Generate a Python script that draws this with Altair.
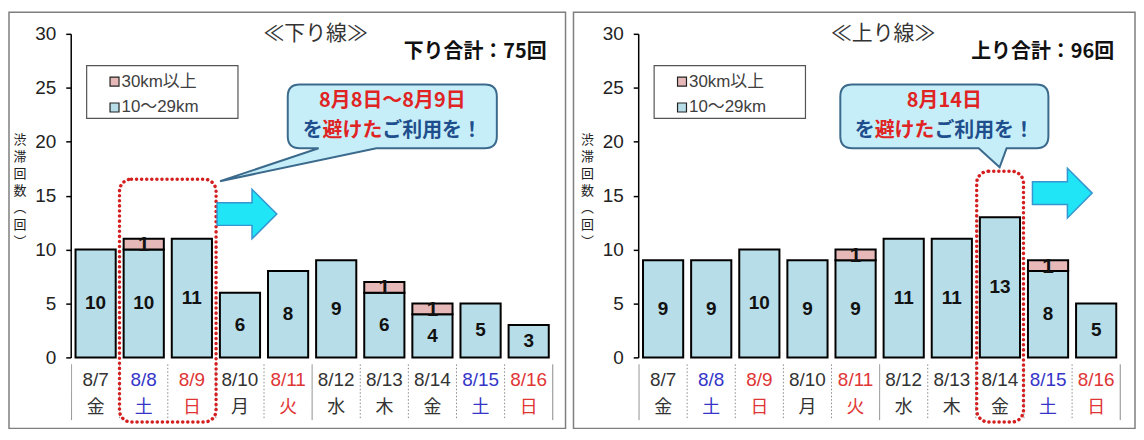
import altair as alt
import pandas as pd

# ---------------- data ----------------
dates = ["8/7", "8/8", "8/9", "8/10", "8/11", "8/12", "8/13", "8/14", "8/15", "8/16"]
weekdays = ["金", "土", "日", "月", "火", "水", "木", "金", "土", "日"]
day_colors = ["#333333", "#3535c8", "#e03535", "#333333", "#e03535",
              "#333333", "#333333", "#333333", "#3535c8", "#e03535"]
down_short = [10, 10, 11, 6, 8, 9, 6, 4, 5, 3]     # 10～29km (下り線)
down_long = [0, 1, 0, 0, 0, 0, 1, 1, 0, 0]         # 30km以上 (下り線)
up_short = [9, 9, 10, 9, 9, 11, 11, 13, 8, 5]       # 10～29km (上り線)
up_long = [0, 0, 0, 0, 1, 0, 0, 0, 1, 0]            # 30km以上 (上り線)
legend_labels = ["30km以上", "10～29km"]
separator_styles = ["solid", "dotted", "dotted", "dotted", "dotted",
                    "solid", "dotted", "dotted", "dotted", "dotted"]
y_ticks = [0, 5, 10, 15, 20, 25, 30]
y_title_lines = ["渋", "滞", "回", "数", "︵", "\u3000", "回", "︶"]

# ---------------- style ----------------
BLUE = "#b7dde8"
PINK = "#e6b9b8"
RED = "#d42020"
RED_TXT = "#e02424"
BLUE_TXT = "#1f4e8c"
JP = "Noto Sans CJK JP"
LAT = "Liberation Sans"
W, H = 485, 325
PI, PO = 0.165, 0.1

one = alt.Data(values=[{"a": 1}])


def fmt(x, y, s=100.0):
    return f"{x / s:.4f},{y / s:.4f}"


def bubble_path(hw, hh, r, b_left, b_right, tip):
    tx, ty = tip
    return (
        f"M{fmt(-hw + r, -hh)} L{fmt(hw - r, -hh)} Q{fmt(hw, -hh)} {fmt(hw, -hh + r)} "
        f"L{fmt(hw, hh - r)} Q{fmt(hw, hh)} {fmt(hw - r, hh)} L{fmt(b_right, hh)} "
        f"L{fmt(tx, ty)} L{fmt(b_left, hh)} L{fmt(-hw + r, hh)} Q{fmt(-hw, hh)} {fmt(-hw, hh - r)} "
        f"L{fmt(-hw, -hh + r)} Q{fmt(-hw, -hh)} {fmt(-hw + r, -hh)} Z"
    )


ARROW = "M-1,-0.38 L0.17,-0.38 L0.17,-0.83 L1,0 L0.17,0.83 L0.17,0.38 L-1,0.38 Z"


def panel(short, long, line_title, total_text, bubble, box, arrow, border_x):
    df = pd.DataFrame({
        "date": dates, "wd": weekdays, "dcolor": day_colors,
        "low": short, "high": long, "sep": separator_styles,
    })
    X = alt.X("date:N", sort=dates,
              scale=alt.Scale(paddingInner=PI, paddingOuter=PO), axis=None)
    yaxis = alt.Axis(
        values=y_ticks, grid=False, tickSize=5, tickWidth=1.5, tickColor="black",
        domainColor="black", domainWidth=1.5, labelFont=LAT, labelFontSize=19,
        labelColor="#222222", labelPadding=10, zindex=2, title=None,
    )
    base = alt.Chart(df)

    border = alt.Chart(one).mark_rect(fillOpacity=0, stroke="#7f7f7f", strokeWidth=1.5).encode(
        x=alt.value(border_x[0]), x2=alt.value(border_x[1]),
        y=alt.value(-21.7), y2=alt.value(396.3))

    bars_low = base.mark_bar(color=BLUE, stroke="black", strokeWidth=2).encode(
        x=X, y=alt.Y("low:Q", scale=alt.Scale(domain=[0, 30]), axis=yaxis))
    bars_high = base.transform_filter("datum.high > 0").transform_calculate(
        top="datum.low + datum.high").mark_bar(
        color=PINK, stroke="black", strokeWidth=2).encode(
        x=X, y="low:Q", y2="top:Q")
    lab_low = base.transform_calculate(mid="datum.low / 2").mark_text(
        font=LAT, fontWeight="bold", fontSize=19, color="#111111", baseline="middle").encode(
        x=X, y="mid:Q", text="low:Q")
    lab_high = base.transform_filter("datum.high > 0").transform_calculate(
        mid2="datum.low + datum.high / 2").mark_text(
        font=LAT, fontWeight="bold", fontSize=21, color="#111111", baseline="middle",
        dy=1).encode(
        x=X, y="mid2:Q", text="high:Q")

    ytitle = alt.Chart(one).mark_text(
        text="\n".join(y_title_lines), lineBreak="\n", lineHeight=17,
        font=JP, fontSize=13, color="#222222", align="center", baseline="top").encode(
        x=alt.value(-51), y=alt.value(101))

    date_lab = base.mark_text(font=LAT, fontSize=19, baseline="middle").encode(
        x=X, y=alt.value(348), text="date:N", color=alt.Color("dcolor:N", scale=None))
    wd_lab = base.mark_text(font=JP, fontSize=18, baseline="middle").encode(
        x=X, y=alt.value(376), text="wd:N", color=alt.Color("dcolor:N", scale=None))

    sep = base.mark_rule(color="#8a8a8a", strokeWidth=1, xOffset=-4).encode(
        x=alt.X("date:N", sort=dates, bandPosition=0),
        y=alt.value(332), y2=alt.value(388),
        strokeDash=alt.StrokeDash("sep:N", scale=alt.Scale(
            domain=["solid", "dotted"], range=[[1, 0], [1.5, 2]]), legend=None))
    sep_end = base.transform_filter(f"datum.date == '{dates[-1]}'").mark_rule(
        color="#8a8a8a", strokeWidth=1, xOffset=4).encode(
        x=alt.X("date:N", sort=dates, bandPosition=1),
        y=alt.value(332), y2=alt.value(388))

    dbox = alt.Chart(one).mark_rect(
        fillOpacity=0, stroke=RED, strokeWidth=3.5, strokeDash=[0.1, 5],
        strokeCap="round", cornerRadius=12).encode(
        x=alt.value(box[0]), x2=alt.value(box[1]), y=alt.value(box[2]), y2=alt.value(box[3]))

    cx, cy = bubble["center"]
    bub = alt.Chart(one).mark_point(
        shape=bubble_path(bubble["hw"], 32, 12, bubble["b_left"], bubble["b_right"], bubble["tip"]),
        size=40000, filled=True, fill="#c6eef9", stroke="#3b6a8c", strokeWidth=2, opacity=1).encode(
        x=alt.value(cx), y=alt.value(cy))
    bub_l1 = alt.Chart(one).mark_text(
        text=bubble["line1"], font=JP, fontWeight="bold", fontSize=20, color=RED_TXT,
        align="center", baseline="middle").encode(x=alt.value(cx), y=alt.value(cy - 15))
    fs = 20
    start = cx - 4.5 * fs
    seg1 = alt.Chart(one).mark_text(
        text="を", font=JP, fontWeight="bold", fontSize=fs, color=BLUE_TXT,
        align="left", baseline="middle").encode(x=alt.value(start), y=alt.value(cy + 15))
    seg2 = alt.Chart(one).mark_text(
        text="避けた", font=JP, fontWeight="bold", fontSize=fs, color=RED_TXT,
        align="left", baseline="middle").encode(x=alt.value(start + fs), y=alt.value(cy + 15))
    seg3 = alt.Chart(one).mark_text(
        text="ご利用を！", font=JP, fontWeight="bold", fontSize=fs, color=BLUE_TXT,
        align="left", baseline="middle").encode(x=alt.value(start + 4 * fs), y=alt.value(cy + 15))

    arr = alt.Chart(one).mark_point(
        shape=ARROW, size=3600, filled=True, fill="#1fe5f7", stroke="#3596d0",
        strokeWidth=1.5, opacity=1).encode(x=alt.value(arrow[0]), y=alt.value(arrow[1]))

    title = alt.Chart(one).mark_text(
        text=line_title, font=JP, fontSize=21, color="#333333", baseline="middle").encode(
        x=alt.value(246), y=alt.value(0))
    total = alt.Chart(one).mark_text(
        text=total_text, font=JP, fontSize=20, fontWeight="bold", color="#111111",
        align="right", baseline="middle").encode(x=alt.value(478), y=alt.value(18))

    leg_box = alt.Chart(one).mark_rect(fill="white", stroke="#555555", strokeWidth=1.2).encode(
        x=alt.value(16), x2=alt.value(168), y=alt.value(32), y2=alt.value(85))
    leg_items = []
    for lbl, col, py in zip(legend_labels, [PINK, BLUE], [48, 74]):
        leg_items.append(alt.Chart(one).mark_point(
            shape="square", size=81, filled=True, fill=col, stroke="#222222",
            strokeWidth=1.2, opacity=1).encode(x=alt.value(44), y=alt.value(py)))
        leg_items.append(alt.Chart(one).mark_text(
            text=lbl, font=f"{LAT}, {JP}", fontSize=17, color="#404040",
            align="left", baseline="middle").encode(x=alt.value(51), y=alt.value(py)))

    return alt.layer(
        border, bars_low, bars_high, lab_low, lab_high, ytitle, date_lab, wd_lab, sep, sep_end,
        dbox, bub, bub_l1, seg1, seg2, seg3, arr, title, total, leg_box, *leg_items
    ).properties(width=W, height=H)


left = panel(
    down_short, down_long, "≪下り線≫", "下り合計：75回",
    bubble={"center": (323, 83), "hw": 105, "b_left": -74, "b_right": -16,
            "tip": (-173, 65), "line1": "8月8日～8月9日"},
    box=(49, 146, 146, 390), arrow=(177, 181), border_x=(-62, 497))
right = panel(
    up_short, up_long, "≪上り線≫", "上り合計：96回",
    bubble={"center": (307.5, 83), "hw": 104.5, "b_left": 34.5, "b_right": 62.5,
            "tip": (55.5, 51), "line1": "8月14日"},
    box=(340, 387, 138, 390), arrow=(426, 160), border_x=(-65, 499))

chart = alt.hconcat(left, right, spacing=6).properties(
    padding={"left": 0, "top": 2, "right": 0, "bottom": 0}
).configure_view(stroke=None)

chart.save("out.html", embed_options={"renderer": "svg", "actions": False})
